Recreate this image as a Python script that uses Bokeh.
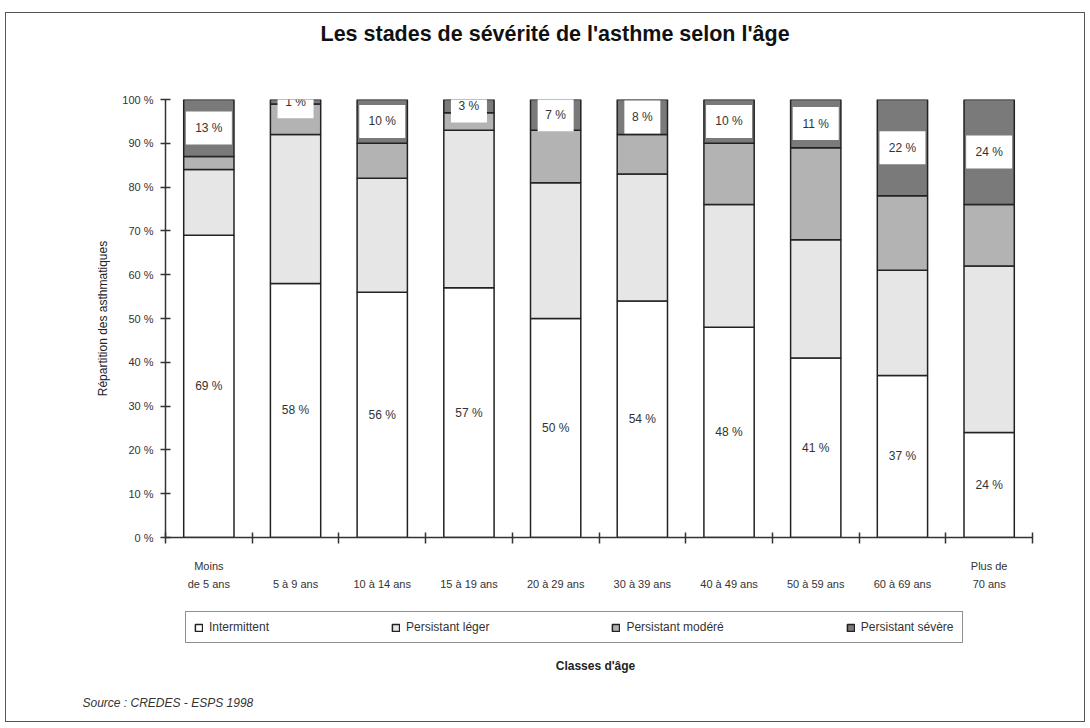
from bokeh.plotting import figure
from bokeh.layouts import column
from bokeh.models import (ColumnDataSource, Range1d, LinearAxis, FixedTicker,
                          Legend, LegendItem, Label, LabelSet, Title)
from bokeh.core.properties import value
from bokeh.embed import file_html
from bokeh.resources import INLINE

categories = ["Moins\nde 5 ans", "5 à 9 ans", "10 à 14 ans", "15 à 19 ans", "20 à 29 ans",
              "30 à 39 ans", "40 à 49 ans", "50 à 59 ans", "60 à 69 ans", "Plus de\n70 ans"]
intermittent = [69, 58, 56, 57, 50, 54, 48, 41, 37, 24]
leger = [15, 34, 26, 36, 31, 29, 28, 27, 24, 38]
modere = [3, 7, 8, 4, 12, 9, 14, 21, 17, 14]
severe = [13, 1, 10, 3, 7, 8, 10, 11, 22, 24]
series_names = ["Intermittent", "Persistant léger", "Persistant modéré", "Persistant sévère"]
y_ticks = [0, 10, 20, 30, 40, 50, 60, 70, 80, 90, 100]
y_tick_labels = ["0 %", "10 %", "20 %", "30 %", "40 %", "50 %", "60 %", "70 %", "80 %", "90 %", "100 %"]

FONT = "Liberation Sans"
colors = ["#ffffff", "#e6e6e6", "#b3b3b3", "#7a7a7a"]
stackers = ["intermittent", "leger", "modere", "severe"]

n = len(categories)
xpos = [i + 0.5 for i in range(n)]
src = ColumnDataSource(dict(x=xpos, intermittent=intermittent, leger=leger,
                            modere=modere, severe=severe))

W = 1078
p = figure(width=W, height=587, x_range=Range1d(0, n),
           y_range=Range1d(0, 100), output_backend="svg", toolbar_location=None,
           x_axis_location=None, min_border_left=159, min_border_right=52,
           min_border_top=86, min_border_bottom=63)
p.outline_line_color = None
p.xgrid.grid_line_color = None
p.ygrid.grid_line_color = None
p.background_fill_color = "white"

rs = p.vbar_stack(stackers, x="x", width=0.58, source=src, fill_color=colors,
                  line_color="#222222", line_width=1.5)

# y axis
ya = p.yaxis[0]
ya.ticker = FixedTicker(ticks=y_ticks)
ya.major_label_overrides = {t: l for t, l in zip(y_ticks, y_tick_labels)}
ya.minor_tick_line_color = None
ya.major_tick_in = 5
ya.major_tick_out = 5
ya.axis_line_width = 1.5
ya.axis_line_color = "#333333"
ya.major_tick_line_color = "#333333"
ya.major_tick_line_width = 1.5
ya.major_label_text_font = FONT
ya.major_label_text_font_size = "11px"
ya.major_label_text_color = "#333333"
ya.major_label_standoff = 7
ya.axis_label = "Répartition des asthmatiques"
ya.axis_label_text_font = FONT
ya.axis_label_text_font_size = "12px"
ya.axis_label_text_font_style = "normal"
ya.axis_label_text_color = "#222222"
ya.axis_label_standoff = 9

# x axis: boundary ticks
tick_axis = LinearAxis(ticker=FixedTicker(ticks=list(range(n + 1))),
                       major_tick_in=5, major_tick_out=6, major_label_text_font_size="0px",
                       major_label_standoff=0, axis_line_width=1.5, axis_line_color="#333333",
                       major_tick_line_color="#333333", major_tick_line_width=1.5,
                       minor_tick_line_color=None)
p.add_layout(tick_axis, "below")

# x axis: category labels (single-line labels pushed to the lower line)
display_labels = [c if "\n" in c else "\n" + c for c in categories]
cat_axis = LinearAxis(ticker=FixedTicker(ticks=xpos),
                      major_label_overrides={x: c for x, c in zip(xpos, display_labels)},
                      axis_line_color=None, major_tick_line_color=None,
                      minor_tick_line_color=None, major_tick_in=0, major_tick_out=0,
                      major_label_text_font=FONT, major_label_text_font_size="11px",
                      major_label_text_color="#333333", major_label_standoff=16,
                      major_label_text_line_height=1.5)
p.add_layout(cat_axis, "below")

# value labels
lab_int = ColumnDataSource(dict(x=xpos, y=[v / 2 for v in intermittent],
                                text=[f"{v} %" for v in intermittent]))
p.add_layout(LabelSet(x="x", y="y", text="text", source=lab_int, text_align="center",
                      text_baseline="middle", text_font=value(FONT), text_font_size="12px",
                      text_color="#333333"))
sev_text = [f"{v} %" for v in severe]
lab_sev = ColumnDataSource(dict(x=xpos, y=[100 - v / 2 for v in severe],
                                text=sev_text, w=[10 * len(t) + 6 for t in sev_text]))
p.rect(x="x", y="y", width="w", height=33, width_units="screen", height_units="screen",
       source=lab_sev, fill_color="white", line_color=None)
p.add_layout(LabelSet(x="x", y="y", text="text", source=lab_sev, text_align="center",
                      text_baseline="middle", text_font=value(FONT), text_font_size="12px",
                      text_color="#333333"))

# titles: real title is p.title (outer), a blank spacer sits next to the frame
p.title.text = "Les stades de sévérité de l'asthme selon l'âge"
p.title.align = "left"
p.title.offset = 155
p.title.text_font = FONT
p.title.text_font_size = "21.5px"
p.title.text_font_style = "bold"
p.title.text_color = "#111111"
p.title.standoff = 0
p.add_layout(Title(text=" ", text_font_size="10px", standoff=41), "above")

# lower strip: legend, axis title, source
p2 = figure(width=W, height=121, x_range=Range1d(0, 1), y_range=Range1d(0, 1),
            output_backend="svg", toolbar_location=None, x_axis_location=None,
            y_axis_location=None, min_border=0)
p2.outline_line_color = None
p2.xgrid.grid_line_color = None
p2.ygrid.grid_line_color = None
rs2 = p2.vbar_stack(stackers, x="x", width=0.58, source=src, fill_color=colors,
                    line_color="#222222", line_width=1.5)
for r in rs2:
    r.visible = False

p2.add_layout(Title(text="Source : CREDES - ESPS 1998", align="left", offset=-83,
                    text_font=FONT, text_font_size="12px", text_font_style="italic",
                    text_color="#333333", standoff=24), "below")

legend = Legend(items=[LegendItem(label=nm, renderers=[r]) for nm, r in zip(series_names, rs2)],
                orientation="horizontal", location=(20, 38), border_line_color="#222222",
                border_line_width=1.5, label_text_font=FONT, label_text_font_size="12px",
                label_text_color="#333333", glyph_width=9, glyph_height=9, spacing=122,
                padding=8, margin=0, label_standoff=6, background_fill_color="white",
                inactive_fill_alpha=0)
p2.add_layout(legend, "center")

p2.add_layout(Label(x=430, y=16, x_units="screen", y_units="screen", text="Classes d'âge",
                    text_align="center", text_baseline="middle", text_font=FONT,
                    text_font_size="12px", text_font_style="bold", text_color="#222222"))

layout = column(p, p2, spacing=0,
                styles={"border": "1px solid #555", "margin-left": "5px", "margin-top": "12px"})

open("out.html", "w").write(file_html(layout, INLINE))
